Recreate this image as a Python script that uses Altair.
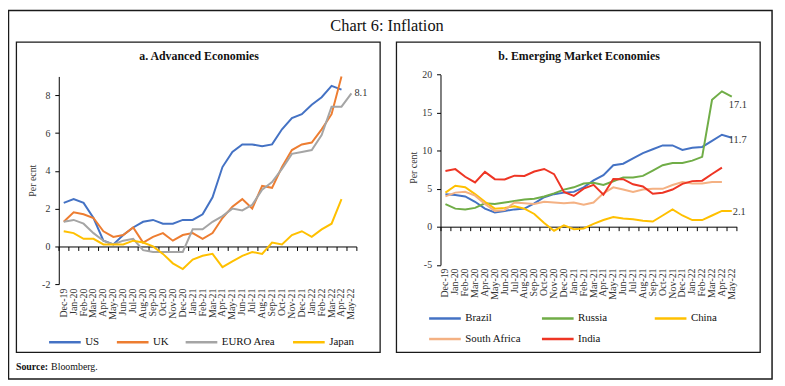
import altair as alt
import pandas as pd

months = ["Dec-19", "Jan-20", "Feb-20", "Mar-20", "Apr-20", "May-20", "Jun-20", "Jul-20",
          "Aug-20", "Sep-20", "Oct-20", "Nov-20", "Dec-20", "Jan-21", "Feb-21", "Mar-21",
          "Apr-21", "May-21", "Jun-21", "Jul-21", "Aug-21", "Sep-21", "Oct-21", "Nov-21",
          "Dec-21", "Jan-22", "Feb-22", "Mar-22", "Apr-22", "May-22"]

# Panel a: Advanced Economies
adv_names = ["US", "UK", "EURO Area", "Japan"]
adv_colors = ["#4472C4", "#ED7D31", "#A5A5A5", "#FFC000"]
us = [2.3, 2.5, 2.3, 1.5, 0.3, 0.1, 0.6, 1.0, 1.3, 1.4, 1.2, 1.2, 1.4, 1.4, 1.7, 2.6, 4.2, 5.0,
      5.4, 5.4, 5.3, 5.4, 6.2, 6.8, 7.0, 7.5, 7.9, 8.5, 8.3, None]
uk = [1.3, 1.8, 1.7, 1.5, 0.8, 0.5, 0.6, 1.0, 0.2, 0.5, 0.7, 0.3, 0.6, 0.7, 0.4, 0.7, 1.5, 2.1,
      2.5, 2.0, 3.2, 3.1, 4.2, 5.1, 5.4, 5.5, 6.2, 7.0, 9.0, None]
euro = [1.3, 1.4, 1.2, 0.7, 0.3, 0.1, 0.3, 0.4, -0.2, -0.3, -0.3, -0.3, -0.3, 0.9, 0.9, 1.3, 1.6,
        2.0, 1.9, 2.2, 3.0, 3.4, 4.1, 4.9, 5.0, 5.1, 5.9, 7.4, 7.4, 8.1]
japan = [0.8, 0.7, 0.4, 0.4, 0.1, 0.1, 0.1, 0.3, 0.2, 0.0, -0.4, -0.9, -1.2, -0.7, -0.5, -0.4,
         -1.1, -0.8, -0.5, -0.3, -0.4, 0.2, 0.1, 0.6, 0.8, 0.5, 0.9, 1.2, 2.5, None]

# Panel b: Emerging Market Economies
eme_names = ["Brazil", "Russia", "China", "South Africa", "India"]
eme_colors = ["#4472C4", "#70AD47", "#FFC000", "#F4B183", "#EE3524"]
brazil = [4.3, 4.2, 4.0, 3.3, 2.4, 1.9, 2.1, 2.3, 2.4, 3.1, 3.9, 4.3, 4.5, 4.6, 5.2, 6.1, 6.8,
          8.1, 8.3, 9.0, 9.7, 10.2, 10.7, 10.7, 10.1, 10.4, 10.5, 11.3, 12.1, 11.7]
russia = [3.0, 2.4, 2.3, 2.5, 3.1, 3.0, 3.2, 3.4, 3.6, 3.7, 4.0, 4.4, 4.9, 5.2, 5.7, 5.8, 5.5,
          6.0, 6.5, 6.5, 6.7, 7.4, 8.1, 8.4, 8.4, 8.7, 9.2, 16.7, 17.8, 17.1]
china = [4.5, 5.4, 5.2, 4.3, 3.3, 2.4, 2.5, 2.7, 2.4, 1.7, 0.5, -0.5, 0.2, -0.3, -0.2, 0.4, 0.9,
         1.3, 1.1, 1.0, 0.8, 0.7, 1.5, 2.3, 1.5, 0.9, 0.9, 1.5, 2.1, 2.1]
south_africa = [4.0, 4.5, 4.6, 4.1, 3.0, 2.1, 2.2, 3.2, 3.1, 3.0, 3.3, 3.2, 3.1, 3.2, 2.9, 3.2,
                4.4, 5.2, 4.9, 4.6, 4.9, 5.0, 5.0, 5.5, 5.9, 5.7, 5.7, 5.9, 5.9, None]
india = [7.35, 7.59, 6.58, 5.84, 7.22, 6.27, 6.23, 6.73, 6.69, 7.27, 7.61, 6.93, 4.59, 4.06, 5.03,
         5.52, 4.23, 6.30, 6.26, 5.59, 5.30, 4.35, 4.48, 4.91, 5.66, 6.01, 6.07, 6.95, 7.79, None]


def long_df(names, series):
    rows = []
    for name, vals in zip(names, series):
        for m, v in zip(months, vals):
            if v is not None:
                rows.append({"month": m, "series": name, "value": v})
    return pd.DataFrame(rows)


df_a = long_df(adv_names, [us, uk, euro, japan])
df_b = long_df(eme_names, [brazil, russia, china, south_africa, india])

FONT = "Liberation Serif"
W, H = 777, 378
INK = "#1a1a1a"

XA = [51.3, 352.0]
YA = [277.0, 67.2]
DOMA = [-2, 9]
XB = [437.0, 736.3]
YB = [257.7, 65.3]
DOMB = [-5, 20]

HYPHEN_LABEL = "datum.value < 0 ? '-' + abs(datum.value) : '' + datum.value"


def band(rng):
    return alt.Scale(type="band", domain=months, range=rng, paddingInner=0, paddingOuter=0)


def lin(dom, rng):
    return alt.Scale(domain=dom, range=rng, nice=False, zero=False)


def label_axis(off):
    return alt.Axis(orient="bottom", offset=off, domain=False, ticks=False, tickSize=0,
                    labelPadding=3, labelAngle=-90, labelFontSize=10, labelOverlap=False,
                    labelFont=FONT, labelColor="#333", title=None, grid=False)


def zero_axis(off):
    return alt.Axis(orient="bottom", offset=off, labels=False, domain=True, ticks=True,
                    tickSize=4, tickBand="extent", domainColor="#000", tickColor="#000",
                    domainWidth=1, tickWidth=1, title=None, grid=False)


def y_axis(off, vals, title, tx, ty):
    return alt.Axis(orient="left", offset=off, values=vals, tickSize=4, labelPadding=5,
                    labelExpr=HYPHEN_LABEL,
                    labelFont=FONT, labelFontSize=10, labelColor="#333",
                    domainColor="#000", tickColor="#000", grid=False,
                    title=title, titleFont=FONT, titleFontSize=10, titleFontWeight="normal",
                    titleColor="#333", titleX=tx, titleY=ty, titleAngle=-90,
                    titleAlign="center", titleBaseline="middle")


one = alt.Data(values=[{}])


def box(x1, y1, x2, y2, sw):
    return alt.Chart(one).mark_rect(filled=False, stroke=INK, strokeWidth=sw).encode(
        x=alt.value(x1), x2=alt.value(x2), y=alt.value(y1), y2=alt.value(y2))


def txt(s, x, y, size, weight="normal", align="center"):
    return alt.Chart(one).mark_text(text=s, font=FONT, fontSize=size, fontWeight=weight,
                                    align=align, baseline="middle", color="#111").encode(
        x=alt.value(x), y=alt.value(y))


outer = box(0.5, 0.5, 772, 373, 1.5)
box_a = box(8.5, 32.5, 376, 346, 1.3)
box_b = box(392.5, 32.5, 760, 346, 1.3)

title = txt("Chart 6:  Inflation", 383, 16, 16.5)
title_a = txt("a. Advanced Economies", 193, 47, 12, "bold")
title_b = txt("b. Emerging Market Economies", 577, 47, 12, "bold")
src1 = txt("Source:", 8, 361, 10, "bold", "left")
src2 = txt("Bloomberg.", 43.5, 361, 10, "normal", "left")

legend_common = dict(orient="none", direction="horizontal", title=None,
                     symbolType="M0,0H6.4", symbolSize=100, symbolStrokeWidth=2.5,
                     labelFont=FONT, labelFontSize=11, labelColor="#111", padding=0,
                     labelOffset=30)

lines_a = alt.Chart(df_a).mark_line(strokeWidth=2).encode(
    x=alt.X("month:N", sort=months, scale=band(XA), axis=label_axis(-100)),
    y=alt.Y("value:Q", scale=lin(DOMA, YA),
            axis=y_axis(-51.3, [-2, 0, 2, 4, 6, 8], "Per ecnt", -26.3, 172)),
    color=alt.Color("series:N", sort=adv_names,
                    scale=alt.Scale(domain=adv_names, range=adv_colors),
                    legend=alt.Legend(legendX=35, legendY=329, columns=4, gridAlign="each",
                                      columnPadding=10.5, **legend_common)),
)

lab_a = pd.DataFrame({"month": [months[-1]], "value": [euro[-1]], "text": [str(euro[-1])]})
label_a = alt.Chart(lab_a).mark_text(align="left", baseline="middle", dx=3, font=FONT,
                                     fontSize=10.5, color="#333").encode(
    x=alt.X("month:N", sort=months, scale=band(XA), axis=zero_axis(-139)),
    y=alt.Y("value:Q", scale=lin(DOMA, YA), axis=None),
    text="text:N",
)

lines_b = alt.Chart(df_b).mark_line(strokeWidth=2).encode(
    x=alt.X("month:N", sort=months, scale=band(XB), axis=label_axis(-120.3)),
    y=alt.Y("value:Q", scale=lin(DOMB, YB),
            axis=y_axis(-437, [-5, 0, 5, 10, 15, 20], "Per cent", -27, 159)),
    color=alt.Color("series:N", sort=eme_names,
                    scale=alt.Scale(domain=eme_names, range=eme_colors),
                    legend=alt.Legend(legendX=419, legendY=305, columns=3, gridAlign="all",
                                      columnPadding=14, rowPadding=9, **legend_common)),
)


def end_label(vals, dx, dy, axis):
    d = pd.DataFrame({"month": [months[-1]], "value": [vals[-1]], "text": [str(vals[-1])]})
    return alt.Chart(d).mark_text(align="left", baseline="middle", dx=dx, dy=dy, font=FONT,
                                  fontSize=10.5, color="#333").encode(
        x=alt.X("month:N", sort=months, scale=band(XB), axis=axis),
        y=alt.Y("value:Q", scale=lin(DOMB, YB), axis=None),
        text="text:N",
    )


label_b1 = end_label(russia, -3, 8, zero_axis(-159))
label_b2 = end_label(brazil, -3, 2, None)
label_b3 = end_label(china, 1, 1, None)

chart = alt.layer(
    outer, box_a, box_b, title, title_a, title_b, src1, src2,
    lines_a, label_a, lines_b, label_b1, label_b2, label_b3,
).resolve_scale(
    x="independent", y="independent", color="independent"
).resolve_axis(
    x="independent", y="independent"
).resolve_legend(
    color="independent"
).properties(
    width=W, height=H, autosize=alt.AutoSizeParams(type="none"), padding=0,
    background="white"
).configure_view(stroke=None)

chart.save("out.html", embed_options={"renderer": "svg", "actions": False})
